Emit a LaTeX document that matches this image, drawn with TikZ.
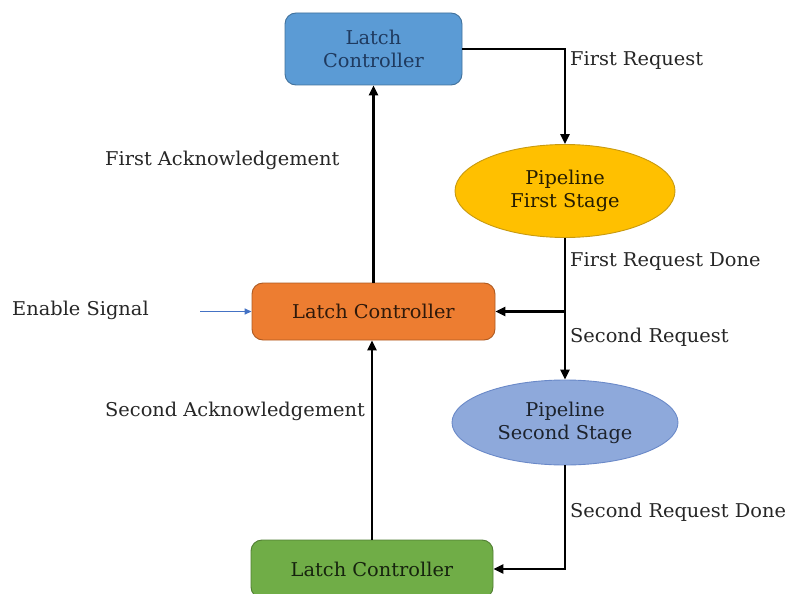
\documentclass[tikz,border=0pt]{standalone}
\usepackage{fontspec}
\setmainfont{DejaVu Serif}[FakeStretch=1.02]
\usetikzlibrary{shapes.geometric,arrows.meta}
\definecolor{latchblue}{HTML}{5B9BD5}
\definecolor{latchblueedge}{HTML}{41719C}
\definecolor{latchbluetext}{HTML}{1F3A5F}
\definecolor{latchorange}{HTML}{ED7D31}
\definecolor{latchorangeedge}{HTML}{AE5A21}
\definecolor{latchgreen}{HTML}{70AD47}
\definecolor{latchgreenedge}{HTML}{507E32}
\definecolor{stageyellow}{HTML}{FFC000}
\definecolor{stageyellowedge}{HTML}{C89A10}
\definecolor{stagelav}{HTML}{8EA9DB}
\definecolor{stagelavedge}{HTML}{6A89C8}
\definecolor{labelgray}{HTML}{262626}
\definecolor{enableblue}{HTML}{4472C4}

\begin{document}
\begin{tikzpicture}[x=1pt, y=-1pt,
  every node/.style={font=\fontsize{19}{23}\selectfont},
  latch/.style={draw, line width=0.9pt, rounded corners=11pt, align=center, inner sep=0pt},
  stage/.style={ellipse, draw, line width=0.9pt, align=center, inner sep=0pt},
  sig/.style={line width=2.3pt, -{Triangle[length=10pt,width=9pt]}},
  wire/.style={line width=2.3pt},
  enable/.style={line width=1.4pt, enableblue, -{Triangle[length=7pt,width=6pt]}},
  lbl/.style={anchor=west, text=labelgray, inner sep=0pt}]
  \useasboundingbox (0,0) rectangle (790,594);

  % latch controllers
  \node[latch, fill=latchblue, draw=latchblueedge, text=latchbluetext,
        minimum width=177pt, minimum height=72pt] (l1) at (373.5,49) {Latch\\Controller};
  \node[latch, fill=latchorange, draw=latchorangeedge, text=black!80!latchorange,
        minimum width=243pt, minimum height=57pt] (l2) at (373.5,311.5) {Latch Controller};
  \node[latch, fill=latchgreen, draw=latchgreenedge, text=black!80!latchgreen,
        minimum width=242pt, minimum height=58pt] (l3) at (372,569) {Latch Controller};

  % pipeline stages
  \node[stage, fill=stageyellow, draw=stageyellowedge, text=black!85!stageyellow,
        minimum width=220pt, minimum height=93pt] (p1) at (565,191) {Pipeline\\First Stage};
  \node[stage, fill=stagelav, draw=stagelavedge, text=black!80!stagelav,
        minimum width=226pt, minimum height=85pt] (p2) at (565,422.5) {Pipeline\\Second Stage};

  \coordinate (j1) at (565,311.5);
  \coordinate (e1) at (200,311.5);

  % requests
  \draw[sig] (l1.east) -| (p1.north);
  \draw[wire] (p1.south) -- (j1);
  \draw[sig] (j1) -- (l2.east);
  \draw[sig] (j1) -- (p2.north);
  \draw[sig] (p2.south) |- (l3.east);

  % acknowledgements
  \draw[sig] (l2.north) -- (l1.south);
  \draw[sig] (l3.north) -- (l3.north |- l2.south);
  \draw[enable] (e1) -- (l2.west);

  % labels
  \node[lbl] (t1) at (570,60) {First Request};
  \node[lbl] (t2) at (105,160) {First Acknowledgement};
  \node[lbl] (t3) at (570,261) {First Request Done};
  \node[lbl] (t4) at (12,310) {Enable Signal};
  \node[lbl] (t5) at (570,337) {Second Request};
  \node[lbl] (t6) at (105,411) {Second Acknowledgement};
  \node[lbl] (t7) at (570,512) {Second Request Done};
\end{tikzpicture}
\end{document}
